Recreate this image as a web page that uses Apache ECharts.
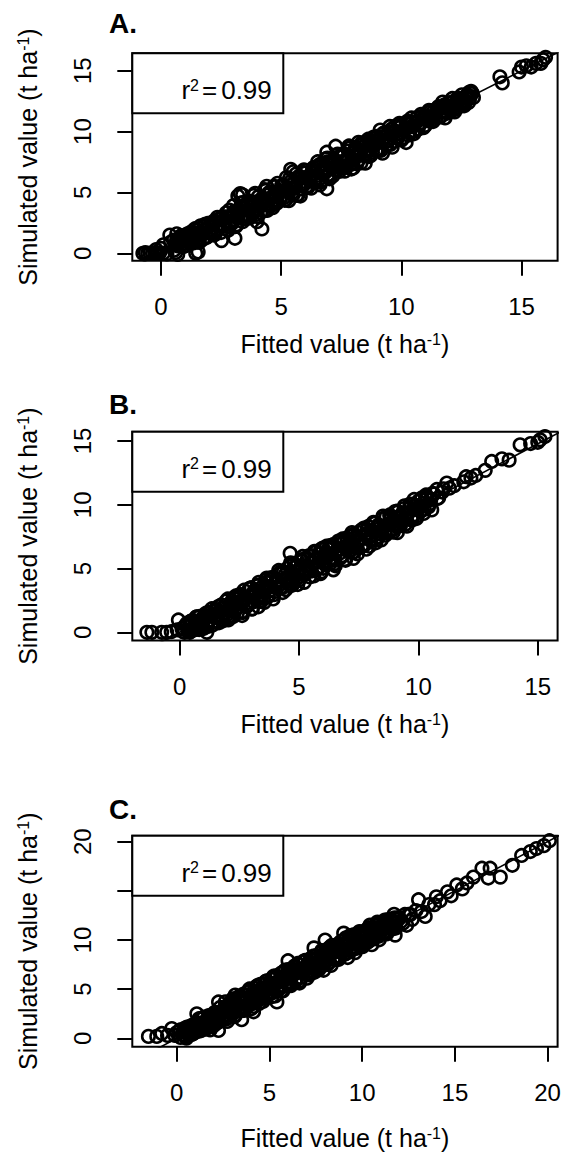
<!DOCTYPE html>
<html><head><meta charset="utf-8">
<script src="https://cdn.jsdelivr.net/npm/echarts@6/dist/echarts.min.js"></script>
<style>html,body{margin:0;padding:0;background:#fff}#c{width:567px;height:1155px}</style>
</head><body><div id="c"></div>
<script>
// ---------- data ----------
const panelLabels = ['A.', 'B.', 'C.'];
const r2Values = ['0.99', '0.99', '0.99'];
const xTitle = 'Fitted value (t ha';
const yTitle = 'Simulated value (t ha';
const unitSup = '-1';

const xTicksA = [0, 5, 10, 15];
const yTicksA = [0, 5, 10, 15];
const xTicksB = [0, 5, 10, 15];
const yTicksB = [0, 5, 10, 15];
const xTicksC = [0, 5, 10, 15, 20];
const yTicksC = [0, 5, 10, 15, 20];
const yLabelsC = [0, 5, 10, 20];

const xRangeA = [-1.19, 16.5],  yRangeA = [-0.61, 16.43];
const xRangeB = [-1.98, 15.83], yRangeB = [-0.64, 15.73];
const xRangeC = [-2.40, 20.54], yRangeC = [-0.85, 20.61];

// fitted line (1:1)
const lineA = [[-2, -2], [17, 17]];
const lineB = [[-3, -2.95], [17, 16.75]];
const lineC = [[-3, -3], [21, 21]];

// [fitted, simulated]
const pointsA = [[-0.75,0],[-0.65,0.05],[-0.55,0],[-0.45,0.02],[-0.35,0],[-0.25,0.05],[-0.15,0],[-0.05,0.03],[0.1,0],[0.25,-0.05],[0.7,-0.1],[1.45,0],[1.55,0.1],
[-0.2,0.3],[0,0.4],[0.1,0.7],[0.37,1.5],[0.66,1.6],[0.4,0.9],[0.7,0.6],[0.9,1.2],[1.0,0.8],[1.1,1.6],[1.2,1.1],[1.4,1.4],[1.5,1.9],[1.6,0.9],[1.7,1.5],[1.8,2.2],[1.9,1.3],[2.0,1.8],[2.1,2.5],[2.2,1.5],[2.3,2.0],[2.4,2.8],[2.52,1.04],[2.5,1.7],[2.6,2.3],[2.7,3.0],[2.8,1.9],[2.9,2.6],[3.08,1.23],[3.0,3.2],[3.1,2.2],[3.2,2.9],[3.2,4.7],[3.3,4.9],[3.4,4.8],[3.3,3.5],[3.4,2.6],[3.5,3.1],[3.6,3.9],[3.7,2.9],[3.8,3.5],[3.9,4.2],[4.0,3.2],[4.0,2.6],[4.1,3.8],[4.2,4.5],[4.2,2.0],[4.3,3.5],[4.4,4.1],[4.4,5.5],[4.5,5.0],[4.6,3.9],[4.7,4.6],[4.7,5.5],[4.8,4.2],[4.9,5.1],[5.0,4.6],[5.1,5.6],[5.2,4.4],[5.3,5.2],[5.4,6.9],[5.5,6.7],[5.4,5.9],[5.5,4.8],[5.6,5.4],[5.7,6.2],[5.8,4.7],[5.8,5.3],[5.9,5.9],[6.0,6.6],[6.1,5.5],[6.2,6.1],[6.3,6.8],[6.4,5.8],[6.5,6.4],[6.6,7.3],[6.7,6.0],[6.8,6.7],[6.9,5.3],[6.9,7.5],[6.9,8.3],[7.27,8.8],[7.0,6.4],[7.1,7.0],[7.2,7.7],[7.3,6.8],[7.4,7.3],[7.5,8.1],[7.6,7.0],[7.7,7.6],[7.8,8.4],[7.9,7.3],[8.0,7.0],[8.0,8.0],[8.1,8.7],[8.2,7.6],[8.3,8.3],[8.4,9.0],[8.5,7.4],[8.5,8.0],[8.6,8.6],[8.7,9.3],[8.8,8.3],[8.9,8.9],[9.0,9.6],[9.1,8.6],[9.2,9.2],[9.3,9.9],[9.4,8.9],[9.5,9.5],[9.6,10.2],[9.7,9.2],[9.8,9.8],[9.9,10.5],[10.0,9.4],[10.1,10.1],[10.2,9.1],[10.2,10.7],[10.3,9.7],[10.4,10.4],[10.5,10.0],[10.6,10.8],[10.7,10.2],[10.8,10.7],[10.9,11.1],[11.0,10.5],[11.1,11.0],[11.2,11.6],[11.3,10.9],[11.4,11.4],[11.5,11.9],[11.6,11.2],[11.7,11.7],[11.8,12.2],[11.9,11.5],[12.0,12.0],[12.1,12.4],[12.2,11.8],[12.3,12.2],[12.4,12.7],[12.5,12.1],[12.6,12.5],[12.7,12.9],[12.8,12.4],[12.9,13.3],[13.0,12.8],[14.1,14.5],[14.2,14.0],[14.9,14.9],[15.0,15.3],[15.2,15.4],[15.4,15.3],[15.6,15.6],[15.8,15.6],[15.9,15.9],[16.0,16.1]];
const extraA = [[0.55,0.25],[0.65,1.05],[0.75,0.85],[0.85,1.45],[0.95,0.55],[1.05,1.35],[1.15,0.95],[1.25,1.75],[1.35,0.85],[1.45,1.65],[1.55,1.25],[1.65,2.25],[1.75,1.15],[1.85,1.95],[1.95,2.45],[2.05,1.65],[2.15,2.45],[2.25,1.55],[2.35,2.95],[2.45,2.25],[2.55,2.95],[2.65,2.05],[2.75,2.95],[2.85,3.55],[2.95,2.45],[3.05,3.45],[3.15,2.35],[3.25,3.35],[3.35,4.15],[3.45,3.05],[3.55,4.05],[3.65,2.95],[3.75,3.95],[3.85,4.75],[3.95,3.65],[4.05,4.65],[4.15,3.35],[4.25,4.25],[4.35,5.15],[4.45,3.95],[4.55,4.95],[4.65,3.75],[4.75,4.95],[4.85,5.75],[4.95,4.55],[5.05,5.55],[5.15,4.35],[5.25,5.35],[5.35,6.15],[5.45,4.95],[5.55,5.85],[5.65,4.75],[5.75,6.35],[5.85,5.65],[5.95,6.85],[6.05,5.45],[6.15,6.35],[6.25,5.35],[6.35,7.05],[6.45,6.15],[6.55,7.05],[6.65,5.85],[6.75,6.85],[6.85,7.75],[6.95,6.45],[7.05,7.45],[7.15,6.35],[7.25,7.45],[7.35,8.15],[7.45,7.05],[7.55,8.05],[7.65,6.75],[7.75,7.75],[7.85,8.65],[7.95,7.45],[8.05,8.45],[8.15,7.35],[8.25,8.45],[8.35,9.05],[8.45,8.05],[8.55,9.05],[8.65,7.95],[8.75,8.85],[8.85,9.55],[8.95,8.45],[9.05,9.35],[9.15,8.45],[9.25,9.85],[9.35,9.15],[9.45,9.95],[9.55,8.95],[9.65,9.85],[9.75,10.45],[9.85,9.45],[9.95,10.35],[10.05,9.45],[10.15,10.25],[10.25,10.85],[10.35,9.95],[10.45,10.75],[10.55,10.05],[10.65,11.15],[10.75,10.55],[10.85,11.25],[10.95,10.45],[11.05,11.25],[11.15,11.75],[11.25,10.85],[11.35,11.65],[11.45,11.15],[11.55,12.05],[11.65,11.25],[11.75,11.95],[11.85,11.65],[11.95,12.35],[12.05,11.75],[12.15,12.45],[12.25,11.95],[12.35,12.75],[12.45,12.25],[12.55,12.75],[12.65,12.35],[12.75,13.05],[12.85,12.75],[12.95,13.15]];
const moreA = [[0.52,1.07],[0.62,0.07],[0.72,0.92],[0.82,0.62],[0.92,1.37],[1.02,0.62],[1.12,1.12],[1.22,1.57],[1.32,0.97],[1.42,2.02],[1.52,0.92],[1.62,1.72],[1.72,1.62],[1.82,2.37],[1.92,1.37],[2.02,2.22],[2.12,1.92],[2.22,2.67],[2.32,1.92],[2.42,2.42],[2.52,2.87],[2.62,2.27],[2.72,3.32],[2.82,2.22],[2.92,3.02],[3.02,3.92],[3.12,2.22],[3.22,3.57],[3.32,2.97],[3.42,4.17],[3.52,2.82],[3.62,3.62],[3.72,4.27],[3.82,3.27],[3.92,4.92],[4.02,3.02],[4.12,4.32],[4.22,4.02],[4.32,5.22],[4.42,3.52],[4.52,4.87],[4.62,4.27],[4.72,5.47],[4.82,4.12],[4.92,4.92],[5.02,5.57],[5.12,4.57],[5.22,6.22],[5.32,4.32],[5.42,5.62],[5.52,5.32],[5.62,6.52],[5.72,4.82],[5.82,6.17],[5.92,5.57],[6.02,6.77],[6.12,5.42],[6.22,6.22],[6.32,6.87],[6.42,5.87],[6.52,7.52],[6.62,5.62],[6.72,6.92],[6.82,6.62],[6.92,7.82],[7.02,6.12],[7.12,7.47],[7.22,6.87],[7.32,8.07],[7.42,6.72],[7.52,7.52],[7.62,8.17],[7.72,7.17],[7.82,8.82],[7.92,6.92],[8.02,8.22],[8.12,7.92],[8.22,9.12],[8.32,7.42],[8.42,8.77],[8.52,8.17],[8.62,9.37],[8.72,8.02],[8.82,8.82],[8.92,9.47],[9.02,8.47],[9.12,10.12],[9.22,8.22],[9.32,9.52],[9.42,9.22],[9.52,10.42],[9.62,8.72],[9.72,10.07],[9.82,9.47],[9.92,10.67],[10.02,9.32],[10.12,10.12],[10.22,10.62],[10.32,9.92],[10.42,11.12],[10.52,9.82],[10.62,10.77],[10.72,10.57],[10.82,11.42],[10.92,10.32],[11.02,11.27],[11.12,10.87],[11.22,11.72],[11.32,10.82],[11.42,11.42],[11.52,11.92],[11.62,11.22],[11.72,12.42],[11.82,11.12],[11.92,12.07],[12.02,11.87],[12.12,12.72],[12.22,11.62],[12.32,12.57],[12.42,12.17],[12.52,13.02],[12.62,12.12],[12.72,12.72],[12.82,13.22]];

const pointsB = [[-1.37,0],[-1.16,0],[-0.75,0],[-0.54,0],[-0.35,0.05],[-0.1,0.2],
[-0.05,0.97],[0.1,0.3],[0.2,0.0],[0.3,0.6],[0.4,0.2],[0.5,0.9],[0.6,0.4],[0.7,1.2],[0.8,0.5],[0.9,1.0],[1.0,0.3],[1.14,0],[1.1,1.5],[1.2,0.8],[1.3,1.3],[1.4,0.6],[1.5,1.8],[1.6,1.1],[1.7,1.6],[1.8,0.9],[1.9,2.1],[2.0,1.4],[2.04,0.97],[2.1,1.9],[2.2,2.5],[2.3,1.6],[2.4,2.2],[2.5,2.9],[2.6,1.6],[2.6,2.5],[2.7,3.3],[2.8,2.0],[2.9,2.8],[3.0,3.5],[3.1,2.4],[3.2,3.1],[3.3,2.0],[3.3,3.7],[3.4,2.7],[3.5,3.4],[3.6,4.1],[3.7,2.9],[3.8,3.6],[3.9,4.3],[4.0,3.2],[4.1,3.9],[4.2,4.6],[4.3,3.5],[4.4,4.2],[4.5,5.0],[4.6,3.8],[4.63,6.2],[4.7,3.7],[4.7,4.6],[4.8,5.4],[4.9,4.2],[5.0,4.9],[5.1,5.7],[5.2,4.5],[5.3,5.2],[5.4,6.0],[5.5,4.8],[5.6,5.5],[5.7,6.3],[5.8,5.0],[5.9,4.6],[5.9,5.8],[6.0,6.6],[6.1,5.3],[6.2,6.0],[6.3,6.8],[6.44,4.9],[6.5,5.7],[6.6,6.4],[6.7,7.1],[6.8,6.0],[6.9,6.7],[7.0,7.4],[7.1,6.3],[7.28,5.8],[7.2,7.0],[7.3,7.7],[7.4,6.6],[7.5,7.3],[7.6,8.0],[7.7,6.9],[7.8,7.6],[7.9,8.3],[8.0,7.2],[8.1,7.9],[8.2,8.6],[8.3,7.5],[8.4,8.2],[8.5,8.9],[8.6,7.8],[8.7,8.5],[8.8,9.2],[8.9,8.1],[9.0,8.8],[9.1,8.3],[9.1,9.5],[9.2,8.5],[9.3,9.1],[9.4,9.7],[9.5,8.9],[9.6,9.4],[9.72,8.8],[9.7,10.0],[9.8,9.2],[9.9,9.7],[10.0,10.3],[10.1,9.5],[10.2,10.1],[10.3,10.6],[10.4,9.9],[10.56,9.6],[10.5,10.4],[10.6,10.9],[10.77,11.2],[10.8,10.5],[11.0,11.0],[11.19,11.7],[11.3,11.3],[11.5,11.5],[11.9,11.8],[12.2,12.1],[12.0,12.2],[12.4,12.3],[12.8,12.7],[13.07,13.4],[13.5,13.6],[13.8,13.5],[14.26,14.7],[14.7,14.8],[15.0,14.9],[15.3,15.35],[15.1,15.1]];
const extraB = [[0.15,0.05],[0.25,0.55],[0.35,0.05],[0.45,0.85],[0.55,0.15],[0.65,0.85],[0.75,0.25],[0.85,1.25],[0.95,0.65],[1.05,1.35],[1.15,0.45],[1.25,1.25],[1.35,1.85],[1.45,0.85],[1.55,1.75],[1.65,0.75],[1.75,2.15],[1.85,1.45],[1.95,2.45],[2.05,1.25],[2.15,2.25],[2.25,1.25],[2.35,2.85],[2.45,1.95],[2.55,2.85],[2.65,1.55],[2.75,2.75],[2.85,2.15],[2.95,3.45],[3.05,1.85],[3.15,2.95],[3.25,3.65],[3.35,2.45],[3.45,3.55],[3.55,2.35],[3.65,4.25],[3.75,3.25],[3.85,4.15],[3.95,2.95],[4.05,4.05],[4.15,4.85],[4.25,3.55],[4.35,4.75],[4.45,3.35],[4.55,4.35],[4.65,5.45],[4.75,3.95],[4.85,5.15],[4.95,3.75],[5.05,5.05],[5.15,5.95],[5.25,4.65],[5.35,5.75],[5.45,4.35],[5.55,5.45],[5.65,6.35],[5.75,4.95],[5.85,6.15],[5.95,4.75],[6.05,6.05],[6.15,6.75],[6.25,5.55],[6.35,6.75],[6.45,5.35],[6.55,6.35],[6.65,7.15],[6.75,5.85],[6.85,7.05],[6.95,5.65],[7.05,6.65],[7.15,7.55],[7.25,6.25],[7.35,7.45],[7.45,6.15],[7.55,7.25],[7.65,8.05],[7.75,6.85],[7.85,8.05],[7.95,6.75],[8.05,7.65],[8.15,8.55],[8.25,7.25],[8.35,8.35],[8.45,7.25],[8.55,8.25],[8.65,9.05],[8.75,7.85],[8.85,8.95],[8.95,7.85],[9.05,8.75],[9.15,9.45],[9.25,8.35],[9.35,9.35],[9.45,8.45],[9.55,9.35],[9.65,10.05],[9.75,9.05],[9.85,9.95],[9.95,9.15],[10.05,9.95],[10.15,10.55],[10.25,9.65],[10.35,10.55],[10.45,10.05],[10.65,10.85],[10.85,10.55],[11.05,11.25]];
const moreB = [[0.32,0.72],[0.42,0.0],[0.52,0.62],[0.62,0.22],[0.72,1.22],[0.82,0.22],[0.92,0.72],[1.02,1.22],[1.12,0.62],[1.22,1.57],[1.32,0.52],[1.42,1.42],[1.52,1.22],[1.62,2.02],[1.72,1.02],[1.82,1.92],[1.92,1.52],[2.02,2.62],[2.12,1.12],[2.22,1.92],[2.32,2.62],[2.42,1.52],[2.52,2.97],[2.62,1.32],[2.72,2.62],[2.82,2.32],[2.92,3.42],[3.02,1.82],[3.12,3.22],[3.22,2.52],[3.32,3.92],[3.42,2.42],[3.52,3.22],[3.62,3.92],[3.72,2.82],[3.82,4.27],[3.92,2.62],[4.02,3.92],[4.12,3.62],[4.22,4.72],[4.32,3.12],[4.42,4.52],[4.52,3.82],[4.62,5.22],[4.72,3.72],[4.82,4.52],[4.92,5.22],[5.02,4.12],[5.12,5.57],[5.22,3.92],[5.32,5.22],[5.42,4.92],[5.52,6.02],[5.62,4.42],[5.72,5.82],[5.82,5.12],[5.92,6.52],[6.02,5.02],[6.12,5.82],[6.22,6.52],[6.32,5.42],[6.42,6.87],[6.52,5.22],[6.62,6.52],[6.72,6.22],[6.82,7.32],[6.92,5.72],[7.02,7.12],[7.12,6.42],[7.22,7.82],[7.32,6.32],[7.42,7.12],[7.52,7.82],[7.62,6.72],[7.72,8.17],[7.82,6.52],[7.92,7.82],[8.02,7.52],[8.12,8.62],[8.22,7.02],[8.32,8.42],[8.42,7.72],[8.52,9.12],[8.62,7.62],[8.72,8.42],[8.82,9.12],[8.92,8.02],[9.02,9.47],[9.12,7.82],[9.22,9.12],[9.32,8.82],[9.42,9.92],[9.52,8.32],[9.62,9.72],[9.72,9.02],[9.82,10.42],[9.92,8.92],[10.02,9.72],[10.12,10.42],[10.22,9.32],[10.32,10.77],[10.42,9.82],[10.52,10.42]];

const pointsC = [[-1.53,0.2],[-1.08,0.2],[-0.81,0.5],[-0.5,0.3],[-0.27,1.0],[-0.1,0.3],[0,0.6],[0.18,0.85],[0.2,0.1],[0.3,0.4],[0.4,0.9],[0.5,0.2],[0.6,0.6],[0.7,1.2],[0.8,0.4],[0.9,0.9],[1.08,2.5],[1.0,1.4],[1.1,0.7],[1.2,2.0],[1.3,1.2],[1.5,1.6],[1.6,1.0],[1.8,0.85],[1.8,1.8],[2.0,1.3],[2.1,2.2],[2.25,0.8],[2.25,3.7],[2.3,1.7],[2.4,2.6],[2.5,2.0],[2.6,3.1],[2.7,2.4],[2.8,3.4],[2.9,2.8],[3.0,3.8],[3.15,4.4],[3.1,2.6],[3.2,3.3],[3.3,4.1],[3.4,2.9],[3.5,1.9],[3.5,3.6],[3.6,4.5],[3.7,3.2],[3.8,4.0],[3.9,4.8],[4.0,3.5],[4.14,2.7],[4.1,4.3],[4.2,5.1],[4.3,3.8],[4.4,4.6],[4.5,5.5],[4.6,4.1],[4.7,4.9],[4.8,5.8],[4.9,4.4],[5.0,5.2],[5.1,6.0],[5.2,4.7],[5.4,3.7],[5.3,5.5],[5.4,6.3],[5.5,5.0],[5.6,5.8],[5.7,6.7],[5.8,5.3],[5.9,6.1],[6.0,7.9],[6.0,7.0],[6.1,5.6],[6.2,6.4],[6.3,7.2],[6.4,5.9],[6.5,6.7],[6.6,7.5],[6.7,6.2],[6.8,7.0],[6.9,7.8],[7.0,6.5],[7.1,7.3],[7.2,8.1],[7.3,6.8],[7.4,9.2],[7.4,7.6],[7.5,8.4],[7.6,7.1],[7.7,7.9],[7.8,8.7],[7.9,7.4],[8.0,10.0],[8.0,8.2],[8.1,9.0],[8.2,7.7],[8.3,8.5],[8.4,9.3],[8.5,8.0],[8.6,8.8],[8.7,9.6],[8.8,8.3],[8.9,9.1],[9.0,10.7],[9.0,9.9],[9.1,8.6],[9.2,9.4],[9.3,10.2],[9.4,8.9],[9.5,9.7],[9.6,10.5],[9.7,9.2],[9.8,10.0],[9.9,10.8],[10.0,9.5],[10.1,10.3],[10.2,11.0],[10.3,9.8],[10.4,10.6],[10.5,11.2],[10.6,10.1],[10.7,10.9],[10.8,11.5],[10.9,10.4],[11.0,11.2],[11.2,11.7],[11.3,10.8],[11.5,11.4],[11.6,12.0],[11.78,10.5],[11.8,11.3],[12.0,12.2],[12.2,11.7],[12.4,11.5],[12.5,12.6],[12.7,12.1],[12.9,13.0],[13.04,14.1],[13.2,12.9],[13.4,12.4],[13.6,13.6],[13.9,13.6],[14.0,14.4],[14.2,14.0],[14.6,14.9],[14.8,14.5],[15.1,15.6],[15.4,15.2],[15.65,15.8],[16.0,16.4],[16.46,17.3],[16.9,17.3],[16.8,16.3],[17.45,16.4],[18.1,17.6],[18.6,18.6],[19.07,19.0],[19.4,19.3],[19.8,19.6],[20.1,20.1]];
const extraC = [[0.35,0.65],[0.45,0.25],[0.55,1.15],[0.65,0.35],[0.75,1.05],[0.85,0.45],[0.95,1.45],[1.05,0.85],[1.15,1.55],[1.25,0.75],[1.35,1.55],[1.45,2.15],[1.55,1.15],[1.65,1.95],[1.75,1.15],[1.85,2.35],[1.95,1.75],[2.05,2.65],[2.15,1.55],[2.25,2.45],[2.35,3.15],[2.45,2.05],[2.55,2.95],[2.65,1.95],[2.75,2.85],[2.85,3.65],[2.95,2.45],[3.05,3.45],[3.15,2.35],[3.25,3.45],[3.35,4.25],[3.45,3.05],[3.55,4.05],[3.65,2.85],[3.75,3.85],[3.85,4.75],[3.95,3.45],[4.05,4.45],[4.15,3.25],[4.25,4.45],[4.35,5.35],[4.45,3.95],[4.55,5.05],[4.65,3.75],[4.75,4.85],[4.85,5.85],[4.95,4.55],[5.05,5.55],[5.15,4.25],[5.25,5.45],[5.35,6.35],[5.45,4.95],[5.55,5.95],[5.65,4.85],[5.75,5.85],[5.85,6.95],[5.95,5.55],[6.05,6.55],[6.15,5.35],[6.25,6.45],[6.35,7.35],[6.45,5.95],[6.55,6.95],[6.65,5.85],[6.75,6.85],[6.85,7.85],[6.95,6.55],[7.05,7.55],[7.15,6.45],[7.25,7.45],[7.35,8.35],[7.45,7.05],[7.55,8.05],[7.65,6.95],[7.75,7.95],[7.85,8.85],[7.95,7.65],[8.05,8.65],[8.15,7.55],[8.25,8.55],[8.35,9.45],[8.45,8.15],[8.55,9.15],[8.65,8.05],[8.75,9.05],[8.85,9.85],[8.95,8.75],[9.05,9.65],[9.15,8.65],[9.25,9.55],[9.35,10.45],[9.45,9.25],[9.55,10.15],[9.65,9.15],[9.75,10.05],[9.85,10.85],[9.95,9.75],[10.05,10.65],[10.15,9.75],[10.25,10.55],[10.35,11.25],[10.45,10.15],[10.55,11.05],[10.65,10.25],[10.75,10.95],[10.85,11.65],[10.95,10.65],[11.05,11.45],[11.15,10.75],[11.25,11.45],[11.35,12.05],[11.45,11.25],[11.55,11.85],[11.65,11.35],[11.75,12.25],[11.85,11.85],[11.95,12.25],[12.1,11.9],[12.3,12.6],[12.6,12.6]];
const moreC = [[0.42,1.02],[0.52,0.02],[0.62,0.87],[0.72,0.47],[0.82,1.32],[0.92,0.52],[1.02,1.07],[1.12,1.47],[1.22,0.92],[1.32,1.97],[1.42,0.87],[1.52,1.72],[1.62,1.52],[1.72,2.32],[1.82,1.32],[1.92,2.17],[2.02,1.77],[2.12,2.62],[2.22,1.82],[2.32,2.37],[2.42,2.77],[2.52,2.02],[2.62,3.72],[2.72,1.72],[2.82,3.12],[2.92,2.72],[3.02,4.02],[3.12,2.22],[3.22,3.62],[3.32,2.92],[3.42,4.22],[3.52,2.82],[3.62,3.72],[3.72,4.32],[3.82,3.32],[3.92,5.02],[4.02,3.02],[4.12,4.42],[4.22,4.02],[4.32,5.32],[4.42,3.52],[4.52,4.92],[4.62,4.22],[4.72,5.52],[4.82,4.12],[4.92,5.02],[5.02,5.62],[5.12,4.62],[5.22,6.32],[5.32,4.32],[5.42,5.72],[5.52,5.32],[5.62,6.62],[5.72,4.82],[5.82,6.22],[5.92,5.52],[6.02,6.82],[6.12,5.42],[6.22,6.32],[6.32,6.92],[6.42,5.92],[6.52,7.62],[6.62,5.62],[6.72,7.02],[6.82,6.62],[6.92,7.92],[7.02,6.12],[7.12,7.52],[7.22,6.82],[7.32,8.12],[7.42,6.72],[7.52,7.62],[7.62,8.22],[7.72,7.22],[7.82,8.92],[7.92,6.92],[8.02,8.32],[8.12,7.92],[8.22,9.22],[8.32,7.42],[8.42,8.82],[8.52,8.12],[8.62,9.42],[8.72,8.02],[8.82,8.92],[8.92,9.52],[9.02,8.52],[9.12,10.22],[9.22,8.22],[9.32,9.62],[9.42,9.22],[9.52,10.52],[9.62,8.72],[9.72,10.12],[9.82,9.42],[9.92,10.72],[10.02,9.32],[10.12,10.22],[10.22,10.82],[10.32,9.82],[10.42,11.52],[10.52,9.52],[10.62,10.92],[10.72,10.52],[10.82,11.82],[10.92,10.02],[11.02,11.42],[11.12,10.72],[11.22,12.02],[11.32,10.62],[11.42,11.52],[11.52,12.12],[11.62,11.12],[11.72,12.62],[11.82,11.22],[11.92,12.22]];

// ---------- layout ----------
const FONT = '"Liberation Sans", Arial, Helvetica, sans-serif';
const panels = [
  {label: panelLabels[0], r2: r2Values[0], pts: pointsA.concat(extraA, moreA), line: lineA, xr: xRangeA, yr: yRangeA, xt: xTicksA, yt: yTicksA, yl: yTicksA, top: 53.3, h: 207.4, xGap: 71, titleTop: 9},
  {label: panelLabels[1], r2: r2Values[1], pts: pointsB.concat(extraB, moreB), line: lineB, xr: xRangeB, yr: yRangeB, xt: xTicksB, yt: yTicksB, yl: yTicksB, top: 431.7, h: 208.8, xGap: 71, titleTop: 390},
  {label: panelLabels[2], r2: r2Values[2], pts: pointsC.concat(extraC, moreC), line: lineC, xr: xRangeC, yr: yRangeC, xt: xTicksC, yt: yTicksC, yl: yLabelsC, top: 835.7, h: 211, xGap: 79, titleTop: 795}
];
const LEFT = 132.3, WIDTH = 425.3;
const nameRich = {
  a: {fontSize: 25, fontFamily: FONT, color: '#000'},
  b: {fontSize: 16, fontFamily: FONT, color: '#000', verticalAlign: 'top'}
};

const option = {animation: false, backgroundColor: '#fff', title: [], grid: [], xAxis: [], yAxis: [], series: [], graphic: []};
panels.forEach((p, i) => {
  option.title.push({text: p.label, left: 109, top: p.titleTop, padding: 0,
    textStyle: {fontSize: 28, fontWeight: 'bold', fontFamily: FONT, color: '#000'}});
  option.grid.push({left: LEFT, top: p.top, width: WIDTH, height: p.h, show: true,
    borderColor: '#000', borderWidth: 2, backgroundColor: 'transparent', containLabel: false});
  option.xAxis.push({type: 'value', gridIndex: i, min: p.xr[0], max: p.xr[1],
    axisLine: {show: false, onZero: false}, splitLine: {show: false},
    axisTick: {show: true, length: 15, customValues: p.xt, lineStyle: {color: '#000', width: 2}},
    axisLabel: {customValues: p.xt, margin: 34, fontSize: 24, fontFamily: FONT, color: '#000'},
    name: '{a|' + xTitle + '}{b|' + unitSup + '}{a|)}', nameLocation: 'middle', nameGap: p.xGap,
    nameTextStyle: {rich: nameRich}});
  option.yAxis.push({type: 'value', gridIndex: i, min: p.yr[0], max: p.yr[1],
    axisLine: {show: false, onZero: false}, splitLine: {show: false},
    axisTick: {show: true, length: 15, customValues: p.yt, lineStyle: {color: '#000', width: 2}},
    axisLabel: {customValues: p.yl, margin: 38, rotate: 90, fontSize: 24, fontFamily: FONT, color: '#000'},
    name: '{a|' + yTitle + '}{b|' + unitSup + '}{a|)}', nameLocation: 'middle', nameGap: 92, nameRotate: 90,
    nameTextStyle: {rich: nameRich}});
  option.series.push({type: 'line', xAxisIndex: i, yAxisIndex: i, data: p.line, showSymbol: false,
    lineStyle: {color: '#000', width: 1.6}, clip: true, silent: true, z: 3});
  option.series.push({type: 'scatter', xAxisIndex: i, yAxisIndex: i, data: p.pts, symbol: 'circle', symbolSize: 12.5,
    itemStyle: {color: 'rgba(0,0,0,0)', borderColor: '#000', borderWidth: 2.6, opacity: 1}, clip: true, z: 2});
  option.graphic.push({type: 'group', left: LEFT - 1, top: p.top - 1, children: [
    {type: 'rect', shape: {x: 0, y: 0, width: 151, height: 60}, style: {fill: '#fff', stroke: '#000', lineWidth: 2}},
    {type: 'text', style: {x: 139.5, y: 37, text: '{a|r}{b|2}{c|=}{a|' + p.r2 + '}', align: 'right', verticalAlign: 'middle',
      rich: {a: {fontSize: 26, fontFamily: FONT, fill: '#000'},
             b: {fontSize: 16, fontFamily: FONT, fill: '#000', verticalAlign: 'top'},
             c: {fontSize: 26, fontFamily: FONT, fill: '#000', padding: [0, 4, 0, 3]}}}}
  ]});
});
const chart = echarts.init(document.getElementById('c'), null, {renderer: 'svg'});
chart.setOption(option);
</script></body></html>
